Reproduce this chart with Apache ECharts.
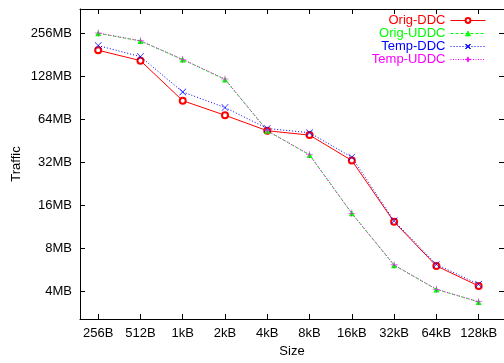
<!DOCTYPE html>
<html>
<head>
<meta charset="utf-8">
<script src="https://cdn.jsdelivr.net/npm/echarts@6/dist/echarts.min.js"></script>
<style>
  html, body { margin: 0; padding: 0; background: #fff; }
  #chart { width: 504px; height: 363px; }
</style>
</head>
<body>
<div id="chart"></div>
<script>
// x categories (block size) and y tick values (MB)
const sizes = ['256B', '512B', '1kB', '2kB', '4kB', '8kB', '16kB', '32kB', '64kB', '128kB']
const yTicks = [4, 8, 16, 32, 64, 128, 256]

// traffic in MB
const origDDC = [194, 164, 86, 68, 53, 49.4, 32.8, 12.2, 6.0, 4.34]
const origUDDC = [255, 225, 167, 121, 53, 35.9, 14.0, 6.07, 4.11, 3.36]
const tempDDC = [209, 175, 99, 77, 55, 51.3, 34.6, 12.4, 6.15, 4.46]
const tempUDDC = [256, 226, 167, 122, 53, 36, 14.0, 6.1, 4.12, 3.37]

const font = 'Liberation Sans, Arial, Helvetica, sans-serif'
const xTicks = sizes.map((s, i) => i)

// thin "+" and "x" marks like gnuplot's point types
const plusPath = 'path://M4.6,0H5.4V4.6H10V5.4H5.4V10H4.6V5.4H0V4.6H4.6Z'
const crossPath = 'path://M0.6,0L5,4.4L9.4,0L10,0.6L5.6,5L10,9.4L9.4,10L5,5.6L0.6,10L0,9.4L4.4,5L0,0.6Z'

function mkSeries(name, data, color, lineType, symbol, symbolSize, borderWidth) {
  return {
    name: name,
    type: 'line',
    data: data.map((v, i) => [i, v]),
    symbol: symbol,
    symbolSize: symbolSize,
    showAllSymbol: true,
    lineStyle: { color: color, width: 1, type: lineType },
    itemStyle: { color: color, borderColor: color, borderWidth: borderWidth },
    emphasis: { disabled: true },
    animation: false,
  }
}

const frameX = {
  type: 'value',
  min: -0.43,
  max: 9.6,
  splitLine: { show: false },
  axisLine: { show: true, onZero: false, lineStyle: { color: '#000', width: 1 } },
  axisTick: { show: true, inside: true, length: 5, customValues: xTicks, lineStyle: { color: '#000' } },
}
const frameY = {
  type: 'log',
  logBase: 2,
  min: 2.55,
  max: 377,
  splitLine: { show: false },
  axisLine: { show: true, onZero: false, lineStyle: { color: '#000', width: 1 } },
  axisTick: { show: true, inside: true, length: 5, customValues: yTicks, lineStyle: { color: '#000' } },
}

const option = {
  backgroundColor: '#fff',
  animation: false,
  grid: { left: 80, right: -3, top: 9, bottom: 43, containLabel: false },
  legend: {
    orient: 'vertical',
    right: 13,
    top: 9,
    align: 'right',
    itemWidth: 35,
    itemHeight: 6,
    itemGap: 0,
    lineStyle: { width: 1 },
    itemStyle: { borderWidth: 1 },
    textStyle: { fontFamily: font, fontSize: 13, lineHeight: 13 },
    data: [
      { name: 'Orig-DDC', textStyle: { color: '#ff0000' } },
      { name: 'Orig-UDDC', textStyle: { color: '#00ff00' } },
      { name: 'Temp-DDC', textStyle: { color: '#0000ff' } },
      { name: 'Temp-UDDC', textStyle: { color: '#ff00ff' } },
    ],
  },
  xAxis: [
    Object.assign({}, frameX, {
      position: 'bottom',
      name: 'Size',
      nameLocation: 'middle',
      nameGap: 26,
      nameMoveOverlap: false,
      nameTextStyle: { fontFamily: font, fontSize: 13, color: '#000' },
      axisLabel: {
        show: true,
        customValues: xTicks,
        margin: 8,
        fontFamily: font,
        fontSize: 13,
        color: '#000',
        formatter: (v) => sizes[Math.round(v)],
      },
    }),
    Object.assign({}, frameX, { position: 'top', axisLabel: { show: false } }),
  ],
  yAxis: [
    Object.assign({}, frameY, {
      position: 'left',
      name: 'Traffic',
      nameLocation: 'middle',
      nameGap: 57,
      nameMoveOverlap: false,
      nameTextStyle: { fontFamily: font, fontSize: 13, color: '#000' },
      axisLabel: {
        show: true,
        customValues: yTicks,
        margin: 8,
        fontFamily: font,
        fontSize: 13,
        color: '#000',
        formatter: (v) => Math.round(v) + 'MB',
      },
    }),
    Object.assign({}, frameY, { position: 'right', axisLabel: { show: false } }),
  ],
  series: [
    mkSeries('Orig-DDC', origDDC, '#ff0000', 'solid', 'emptyCircle', 6, 1),
    mkSeries('Orig-UDDC', origUDDC, '#00ff00', [3, 2], 'triangle', 6, 0),
    mkSeries('Temp-DDC', tempDDC, '#0000ff', [1, 2], crossPath, 7, 0),
    mkSeries('Temp-UDDC', tempUDDC, '#ff00ff', [1, 1.5], plusPath, 7, 0),
  ],
}

const chart = echarts.init(document.getElementById('chart'), null, { renderer: 'canvas' })
chart.setOption(option)
window.addEventListener('resize', () => {
  chart.resize()
})
</script>
</body>
</html>
